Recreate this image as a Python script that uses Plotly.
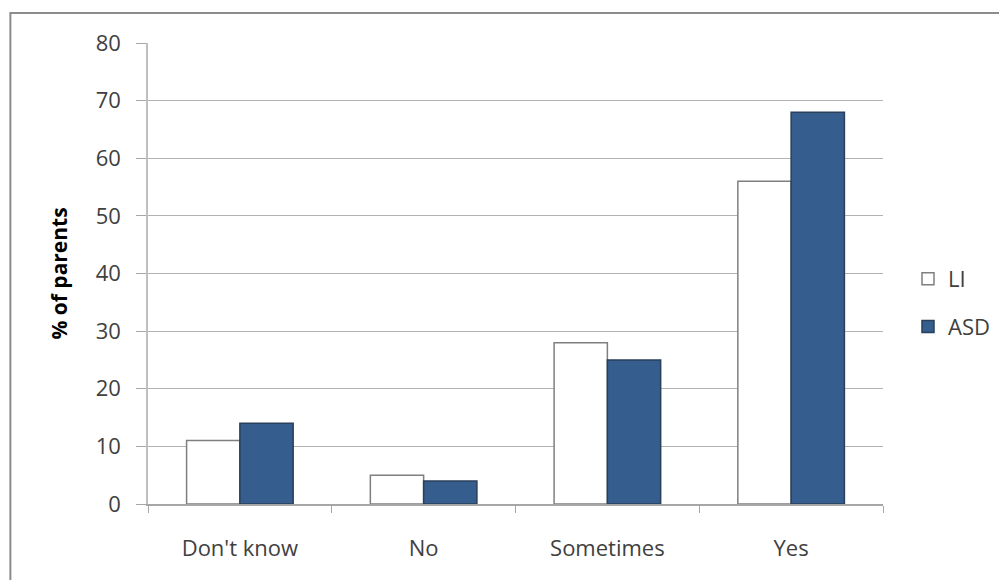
import plotly.graph_objects as go

categories = ["Don't know", "No", "Sometimes", "Yes"]
li_values = [11, 5, 28, 56]
asd_values = [14, 4, 25, 68]
y_ticks = [0, 10, 20, 30, 40, 50, 60, 70, 80]

fig = go.Figure()
fig.add_trace(go.Bar(
    x=categories, y=li_values, name="LI",
    marker=dict(color="white", line=dict(color="#7f7f7f", width=1.5)),
    legendgroup="a",
))
fig.add_trace(go.Bar(
    x=categories, y=asd_values, name="ASD",
    marker=dict(color="#355E8E", line=dict(color="#2a3f5a", width=1.5)),
    legendgroup="b",
))

font_family = "Open Sans, Liberation Sans, sans-serif"
fig.update_layout(
    width=999, height=572,
    margin=dict(l=140, r=122, t=35, b=76),
    paper_bgcolor="white", plot_bgcolor="white",
    barmode="group", bargap=0.42, bargroupgap=0,
    font=dict(family=font_family, size=22, color="#404040"),
    legend=dict(x=1.034, y=0.436, xanchor="left", yanchor="middle",
                font=dict(size=22, color="#404040"),
                tracegroupgap=16, traceorder="grouped",
                itemwidth=30),
    showlegend=True,
)
fig.update_xaxes(
    showline=True, linecolor="#a6a6a6", linewidth=1.5,
    ticks="outside", tickson="boundaries", ticklen=7, tickcolor="#a6a6a6",
    ticklabelstandoff=24,
    tickfont=dict(size=22, color="#404040"),
)
fig.update_yaxes(
    range=[0, 80], tickvals=y_ticks,
    showline=True, linecolor="#bfbfbf", linewidth=1.5,
    ticks="outside", ticklen=10, tickcolor="#a6a6a6",
    showgrid=True, gridcolor="#b3b3b3", gridwidth=1.2,
    zeroline=False,
    tickfont=dict(size=22, color="#404040"),
    ticklabelstandoff=11,
    title=dict(text="<b>% of parents</b>", font=dict(size=21, color="#000000"), standoff=22),
)
fig.add_shape(type="rect", xref="paper", yref="paper",
              x0=(2 - 140) / 737, x1=(1010 - 140) / 737,
              y0=(496 - 590) / 461, y1=(496 - 5) / 461,
              line=dict(color="#8c8c8c", width=2), layer="below")

fig.write_html("out.html")
